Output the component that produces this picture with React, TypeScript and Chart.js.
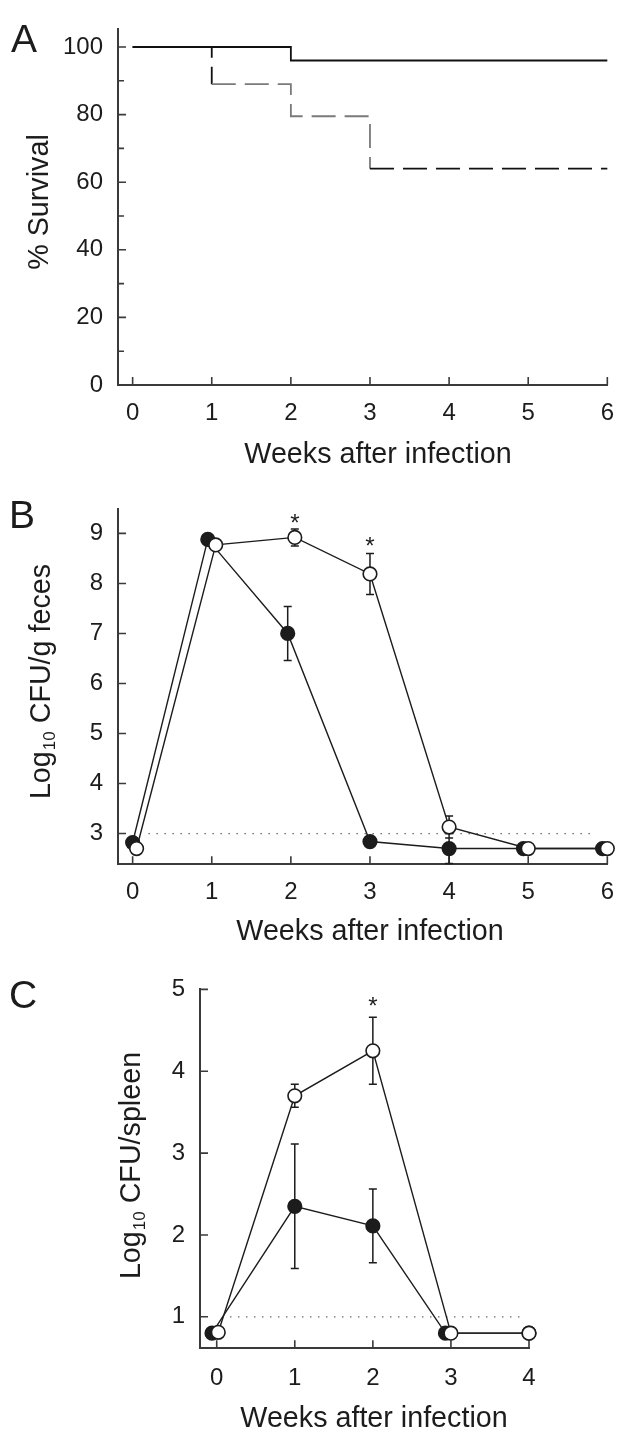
import React, { useEffect, useRef } from "react";
import { Chart, registerables } from "chart.js";

Chart.register(...registerables);

const FONT = "'Liberation Sans', Arial, Helvetica, sans-serif";
const INK = "#1c1c1c";
const AXIS = "#3a3a3a";

// ---------- Panel A: survival ----------
const weeksA = [0, 1, 2, 3, 4, 5, 6];
const survivalTicksY = [0, 20, 40, 60, 80, 100];
const survivalMinorY = [10, 30, 50, 70, 90];
const survivalSolidWeeks = [0, 2, 6];
const survivalSolidPct = [100, 96, 96];
const survivalDashedWeeks = [0, 1, 2, 3, 6];
const survivalDashedPct = [100, 89, 79.5, 64, 64];

// ---------- Panel B: feces ----------
const weeksB = [0, 1, 2, 3, 4, 5, 6];
const fecesTicksY = [3, 4, 5, 6, 7, 8, 9];
const fecesFilledWeeks = [0, 0.95, 1.96, 3, 4, 4.94, 5.94];
const fecesFilledLog = [2.82, 8.88, 7.0, 2.84, 2.7, 2.7, 2.7];
const fecesFilledSem = [0, 0, 0.54, 0, 0.3, 0, 0];
const fecesOpenWeeks = [0.05, 1.05, 2.05, 3, 4, 5, 6];
const fecesOpenLog = [2.7, 8.77, 8.92, 8.19, 3.13, 2.7, 2.7];
const fecesOpenSem = [0, 0, 0.17, 0.41, 0.22, 0, 0];
const fecesLimitWeeks = [0.2, 5.85];
const fecesLimitLog = [3, 3];
const fecesStarWeeks = [2.05, 3];
const fecesStarLog = [9.31, 8.84];

// ---------- Panel C: spleen ----------
const weeksC = [0, 1, 2, 3, 4];
const spleenTicksY = [1, 2, 3, 4, 5];
const spleenFilledWeeks = [-0.06, 1, 2, 2.93, 4];
const spleenFilledLog = [0.8, 2.35, 2.11, 0.8, 0.8];
const spleenFilledSem = [0, 0.76, 0.45, 0, 0];
const spleenOpenWeeks = [0.02, 1, 2, 3, 4];
const spleenOpenLog = [0.81, 3.7, 4.25, 0.8, 0.8];
const spleenOpenSem = [0, 0.14, 0.41, 0, 0];
const spleenLimitWeeks = [0.17, 3.9];
const spleenLimitLog = [1, 1];
const spleenStarWeeks = [2];
const spleenStarLog = [4.86];

const pts = (xs: number[], ys: number[]) => xs.map((x, i) => ({ x, y: ys[i] }));

interface Decor {
  letter: string; letterX: number; letterY: number;
  xTitle: string; xTitleX: number; xTitleY: number;
  yTitle: [string, string, string]; yTitleX: number; yTitleY: number;
  xTicks: number[]; yTicks: number[]; yMinor?: number[];
  starX?: number[]; starY?: number[];
}

function makeDecor(d: Decor) {
  return {
    id: "decor",
    beforeDatasetsDraw(chart: any) {
      const { ctx, chartArea } = chart;
      const xs = chart.scales.x;
      const ys = chart.scales.y;
      ctx.save();
      ctx.strokeStyle = AXIS;
      ctx.lineWidth = 1.6;
      ctx.beginPath();
      d.xTicks.forEach((v) => {
        const px = xs.getPixelForValue(v);
        ctx.moveTo(px, chartArea.bottom);
        ctx.lineTo(px, chartArea.bottom - 8);
      });
      d.yTicks.forEach((v) => {
        const py = ys.getPixelForValue(v);
        ctx.moveTo(chartArea.left, py);
        ctx.lineTo(chartArea.left + 8, py);
      });
      (d.yMinor || []).forEach((v) => {
        const py = ys.getPixelForValue(v);
        ctx.moveTo(chartArea.left, py);
        ctx.lineTo(chartArea.left + 6, py);
      });
      ctx.stroke();
      // error bars
      ctx.strokeStyle = INK;
      ctx.lineWidth = 1.5;
      ctx.beginPath();
      chart.data.datasets.forEach((ds: any) => {
        if (!ds.sem) return;
        ds.data.forEach((p: any, j: number) => {
          const e = ds.sem[j];
          if (!e) return;
          const px = xs.getPixelForValue(p.x);
          const y1 = ys.getPixelForValue(p.y + e);
          const y2 = ys.getPixelForValue(p.y - e);
          ctx.moveTo(px, y1);
          ctx.lineTo(px, y2);
          ctx.moveTo(px - 4, y1);
          ctx.lineTo(px + 4, y1);
          ctx.moveTo(px - 4, y2);
          ctx.lineTo(px + 4, y2);
        });
      });
      ctx.stroke();
      ctx.restore();
    },
    afterDraw(chart: any) {
      const { ctx } = chart;
      const xs = chart.scales.x;
      const ys = chart.scales.y;
      ctx.save();
      ctx.fillStyle = INK;
      ctx.textBaseline = "alphabetic";
      // panel letter
      ctx.font = `39px ${FONT}`;
      ctx.textAlign = "left";
      ctx.fillText(d.letter, d.letterX, d.letterY);
      // x title
      ctx.font = `28.7px ${FONT}`;
      ctx.textAlign = "center";
      ctx.fillText(d.xTitle, d.xTitleX, d.xTitleY);
      // y title (rotated, with subscript)
      const big = `28.7px ${FONT}`;
      const small = `17px ${FONT}`;
      ctx.font = big;
      const w1 = ctx.measureText(d.yTitle[0]).width;
      const w3 = ctx.measureText(d.yTitle[2]).width;
      ctx.font = small;
      const w2 = ctx.measureText(d.yTitle[1]).width;
      ctx.translate(d.yTitleX, d.yTitleY);
      ctx.rotate(-Math.PI / 2);
      ctx.textAlign = "left";
      let x = -(w1 + w2 + w3) / 2;
      ctx.font = big;
      ctx.fillText(d.yTitle[0], x, 0);
      x += w1 + 1;
      ctx.font = small;
      ctx.fillText(d.yTitle[1], x, 5);
      x += w2;
      ctx.font = big;
      ctx.fillText(d.yTitle[2], x, 0);
      ctx.setTransform(1, 0, 0, 1, 0, 0);
      // significance stars
      if (d.starX && d.starY) {
        ctx.font = `24px ${FONT}`;
        ctx.textAlign = "center";
        d.starX.forEach((sx, i) => {
          const px = xs.getPixelForValue(sx);
          const py = ys.getPixelForValue(d.starY![i]);
          ctx.fillText("*", px, py + 13);
        });
      }
      ctx.restore();
    },
  };
}

function xScale(min: number, max: number, ticks: number[], h: number, pad: number) {
  return {
    type: "linear",
    min,
    max,
    afterBuildTicks: (s: any) => {
      s.ticks = ticks.map((v) => ({ value: v }));
    },
    afterFit: (s: any) => {
      s.height = h;
    },
    ticks: {
      font: { family: FONT, size: 24 },
      color: INK,
      padding: pad,
      autoSkip: false,
      maxRotation: 0,
      callback: (v: any) => String(v),
    },
    grid: { display: false, drawTicks: false, tickLength: 0 },
    border: { display: true, color: AXIS, width: 2 },
  };
}

function yScale(min: number, max: number, ticks: number[], w: number) {
  return {
    type: "linear",
    min,
    max,
    afterBuildTicks: (s: any) => {
      s.ticks = ticks.map((v) => ({ value: v }));
    },
    afterFit: (s: any) => {
      s.width = w;
    },
    ticks: {
      font: { family: FONT, size: 24 },
      color: INK,
      padding: 15,
      autoSkip: false,
      callback: (v: any) => String(v),
    },
    grid: { display: false, drawTicks: false, tickLength: 0 },
    border: { display: true, color: AXIS, width: 2 },
  };
}

const baseOpts = (padding: any, scales: any) => ({
  responsive: false,
  animation: false,
  events: [],
  layout: { padding },
  plugins: { legend: { display: false }, tooltip: { enabled: false } },
  scales,
});

const seriesDs = (data: any[], sem: number[], open: boolean) => ({
  data,
  sem,
  borderColor: INK,
  borderWidth: 1.4,
  pointRadius: 6.8,
  pointHoverRadius: 6.8,
  pointBorderWidth: 1.6,
  pointBorderColor: INK,
  pointBackgroundColor: open ? "#ffffff" : INK,
  fill: false,
  tension: 0,
  clip: false,
});

const limitDs = (data: any[]) => ({
  data,
  borderColor: "#6a6a6a",
  borderWidth: 1.2,
  borderDash: [1.5, 6.5],
  pointRadius: 0,
  fill: false,
});

function configA() {
  return {
    type: "line",
    data: {
      datasets: [
        {
          data: pts(survivalSolidWeeks, survivalSolidPct),
          stepped: true,
          borderColor: "#111111",
          borderWidth: 1.8,
          pointRadius: 0,
          fill: false,
          clip: false,
        },
        {
          data: pts(survivalDashedWeeks, survivalDashedPct),
          stepped: true,
          borderColor: "#111111",
          borderWidth: 1.8,
          borderDash: [24, 9],
          segment: {
            borderColor: (c: any) => (c.p0.parsed.x >= 1 && c.p0.parsed.x < 3 ? "#7a7a7a" : "#111111"),
          },
          pointRadius: 0,
          fill: false,
          clip: false,
        },
      ],
    },
    options: baseOpts(
      { top: 15, right: 18, left: 0, bottom: 0 },
      {
        x: xScale(-0.185, 6, weeksA, 95, 14),
        y: yScale(0, 105.2, survivalTicksY, 118),
      }
    ),
    plugins: [
      makeDecor({
        letter: "A", letterX: 11, letterY: 52,
        xTitle: "Weeks after infection", xTitleX: 378, xTitleY: 463,
        yTitle: ["% Survival", "", ""], yTitleX: 48, yTitleY: 202,
        xTicks: weeksA, yTicks: survivalTicksY, yMinor: survivalMinorY,
      }),
    ],
  };
}

function configB() {
  return {
    type: "line",
    data: {
      datasets: [
        seriesDs(pts(fecesOpenWeeks, fecesOpenLog), fecesOpenSem, true),
        seriesDs(pts(fecesFilledWeeks, fecesFilledLog), fecesFilledSem, false),
        limitDs(pts(fecesLimitWeeks, fecesLimitLog)),
      ],
    },
    options: baseOpts(
      { top: 15, right: 18, left: 0, bottom: 0 },
      {
        x: xScale(-0.185, 6, weeksB, 95.7, 14),
        y: yScale(2.385, 9.48, fecesTicksY, 118),
      }
    ),
    plugins: [
      makeDecor({
        letter: "B", letterX: 9, letterY: 48,
        xTitle: "Weeks after infection", xTitleX: 370, xTitleY: 460,
        yTitle: ["Log", "10", " CFU/g feces"], yTitleX: 50, yTitleY: 202,
        xTicks: weeksB, yTicks: fecesTicksY,
        starX: fecesStarWeeks, starY: fecesStarLog,
      }),
    ],
  };
}

function configC() {
  return {
    type: "line",
    data: {
      datasets: [
        seriesDs(pts(spleenOpenWeeks, spleenOpenLog), spleenOpenSem, true),
        seriesDs(pts(spleenFilledWeeks, spleenFilledLog), spleenFilledSem, false),
        limitDs(pts(spleenLimitWeeks, spleenLimitLog)),
      ],
    },
    options: baseOpts(
      { top: 20.7, right: 99, left: 0, bottom: 0 },
      {
        x: xScale(-0.214, 4, weeksC, 88.7, 15.5),
        y: yScale(0.615, 5, spleenTicksY, 200),
      }
    ),
    plugins: [
      makeDecor({
        letter: "C", letterX: 9, letterY: 48,
        xTitle: "Weeks after infection", xTitleX: 374, xTitleY: 467,
        yTitle: ["Log", "10", " CFU/spleen"], yTitleX: 140, yTitleY: 206,
        xTicks: weeksC, yTicks: spleenTicksY,
        starX: spleenStarWeeks, starY: spleenStarLog,
      }),
    ],
  };
}

function Panel({ top, height, make }: { top: number; height: number; make: () => any }) {
  const ref = useRef<HTMLCanvasElement>(null);
  useEffect(() => {
    const chart = new Chart(ref.current as HTMLCanvasElement, make());
    return () => chart.destroy();
  }, []);
  return (
    <canvas
      ref={ref}
      width={628}
      height={height}
      style={{ position: "absolute", left: 0, top, width: 628, height, display: "block" }}
    />
  );
}

export default function App() {
  return (
    <div style={{ position: "absolute", left: 0, top: 0, width: 628, height: 1437, background: "#ffffff" }}>
      <Panel top={0} height={480} make={configA} />
      <Panel top={480} height={480} make={configB} />
      <Panel top={960} height={477} make={configC} />
    </div>
  );
}
